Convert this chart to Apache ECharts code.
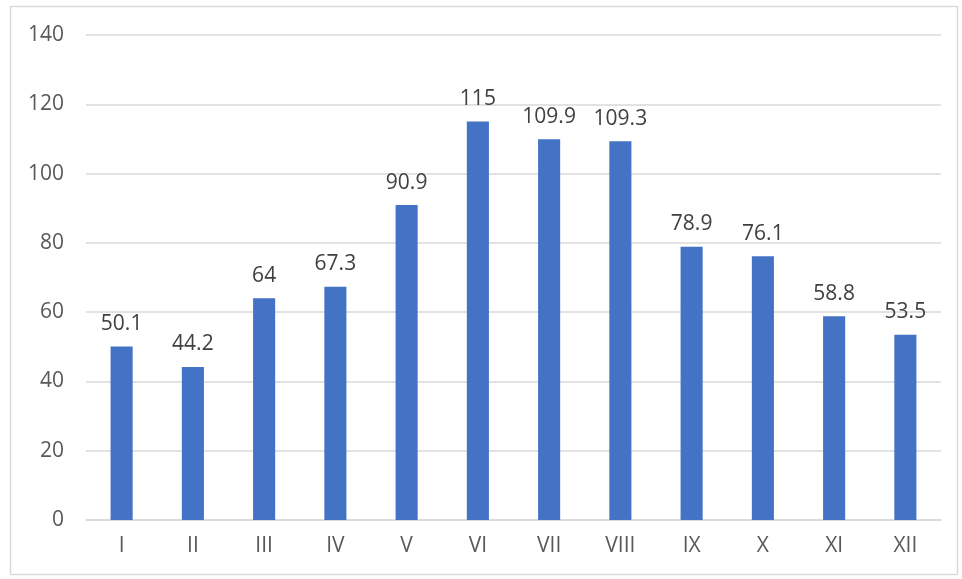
<!DOCTYPE html>
<html><head><meta charset="utf-8">
<script src="https://cdn.jsdelivr.net/npm/echarts@6/dist/echarts.min.js"></script>
<style>html,body{margin:0;padding:0;background:#fff}#c{width:962px;height:579px}</style>
</head><body><div id="c"></div>
<script>
var categories = ['I','II','III','IV','V','VI','VII','VIII','IX','X','XI','XII'];
var values = [50.1,44.2,64,67.3,90.9,115,109.9,109.3,78.9,76.1,58.8,53.5];
var FONT = 'Open Sans';
var chart = echarts.init(document.getElementById('c'));
chart.setOption({
  animation:false,
  graphic:[{type:'rect',shape:{x:10.5,y:6.5,width:947,height:568},style:{fill:'none',stroke:'#d9d9d9',lineWidth:1.5},silent:true}],
  grid:{left:86,right:21,top:35,bottom:59},
  xAxis:{type:'category',data:categories,
    axisLine:{lineStyle:{color:'#d9d9d9',width:1.5}},axisTick:{show:false},
    axisLabel:{color:'#595959',fontSize:21,fontFamily:FONT,margin:16}},
  yAxis:{type:'value',min:0,max:140,interval:20,
    axisLine:{show:false},axisTick:{show:false},
    splitLine:{lineStyle:{color:'#d9d9d9',width:1.5}},
    axisLabel:{color:'#595959',fontSize:21,fontFamily:FONT,margin:22}},
  series:[{type:'bar',data:values,barWidth:'31%',
    itemStyle:{color:'#4472C4'},
    label:{show:true,position:'top',distance:12,color:'#404040',fontSize:21,fontFamily:FONT}}]
});
</script></body></html>
